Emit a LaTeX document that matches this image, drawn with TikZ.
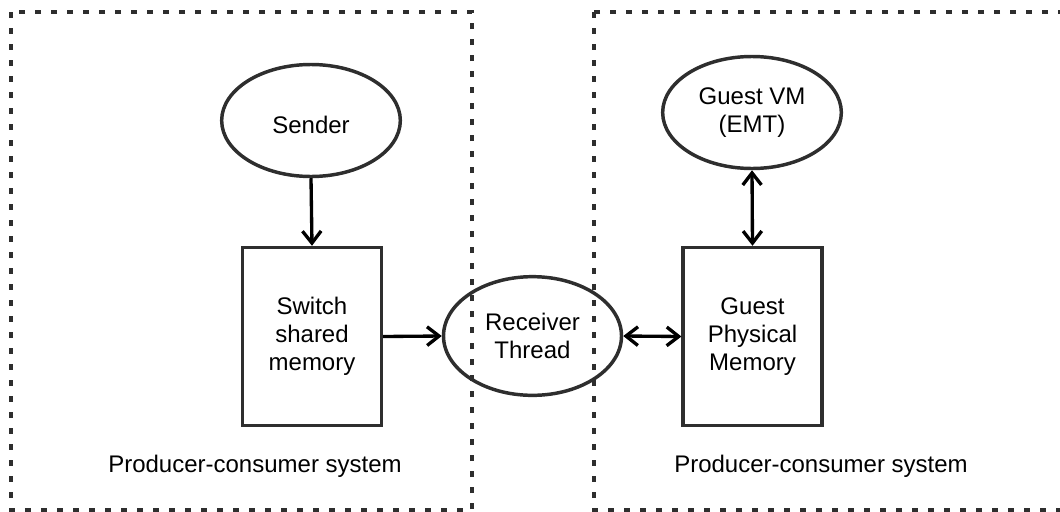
\documentclass[tikz,border=0pt]{standalone}
\usepackage{fontspec}
\setmainfont{Liberation Sans}
\usetikzlibrary{shapes.geometric,arrows.meta}
\begin{document}
\begin{tikzpicture}[x=0.75pt,y=-0.75pt,
  font=\fontsize{18}{21}\selectfont,
  shapeline/.style={draw=black!82, line width=2.6pt},
  proc/.style={shapeline, ellipse, inner sep=0pt, align=center,
    minimum width=134pt, minimum height=84pt},
  store/.style={shapeline, rectangle, inner sep=0pt, align=center,
    minimum width=104pt, minimum height=133.5pt},
  boundary/.style={draw=black!82, line width=2.4pt, dash pattern=on 4.8pt off 7.2pt},
  tip/.tip={Straight Barb[length=9pt,width=14pt]},
  link/.style={draw=black, line width=2.5pt, -tip},
  bilink/.style={draw=black, line width=2.5pt, tip-tip},
  caption/.style={inner sep=0pt}
]
\useasboundingbox (0,0) rectangle (1060,511);
\clip (0,0) rectangle (1060,511);

% system boundaries
\draw[boundary] (11,12) rectangle (472,510);
\draw[boundary] (594,12) rectangle (1075,510);

% components
\node[proc] (sender) at (311,120.5) {\raisebox{-3.5pt}[\height][\depth]{Sender}};
\node[proc] (guest) at (752,112.5) {Guest VM\\(EMT)};
\node[proc, minimum width=133.5pt, minimum height=89pt] (recv) at (532.5,336) {Receiver\\Thread};
\node[store] (shm) at (312,336.5) {Switch\\shared\\memory};
\node[store] (gpm) at (752.5,336.5) {Guest\\Physical\\Memory};

% captions
\node[caption] (capL) at (255,466) {Producer-consumer system};
\node[caption] (capR) at (821,466) {Producer-consumer system};

% data flow
\draw[link] (sender.south) -- (shm.north);
\draw[link] (shm.east) -- (recv.west);
\draw[bilink] (recv.east) -- (gpm.west);
\draw[bilink] (guest.south) -- (gpm.north);
\end{tikzpicture}
\end{document}
